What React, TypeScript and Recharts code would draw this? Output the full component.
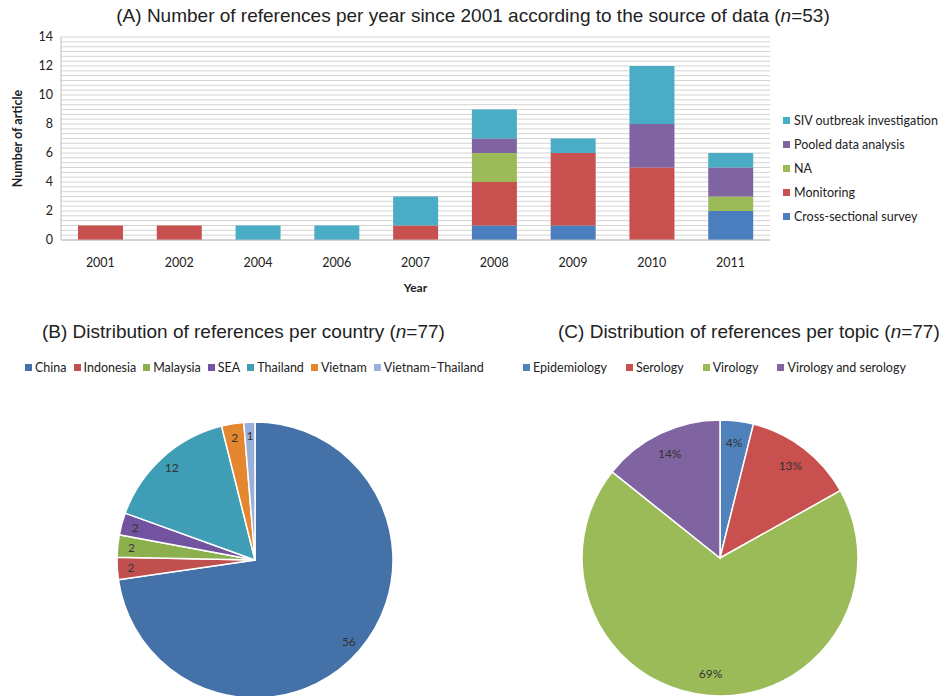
// Références par année / pays / thème (SIV en Asie du Sud-Est)
import React from 'react'
import { BarChart, Bar, XAxis, YAxis, CartesianGrid, PieChart, Pie, Cell } from 'recharts'

const years = ['2001', '2002', '2004', '2006', '2007', '2008', '2009', '2010', '2011']
const crossSectional = [0, 0, 0, 0, 0, 1, 1, 0, 2]
const monitoring = [1, 1, 0, 0, 1, 3, 5, 5, 0]
const notAvailable = [0, 0, 0, 0, 0, 2, 0, 0, 1]
const pooledData = [0, 0, 0, 0, 0, 1, 0, 3, 2]
const sivOutbreak = [0, 0, 1, 1, 2, 2, 1, 4, 1]
const yTicks = [0, 2, 4, 6, 8, 10, 12, 14]

const countries = ['China', 'Indonesia', 'Malaysia', 'SEA', 'Thailand', 'Vietnam', 'Vietnam–Thailand']
const countryCounts = [56, 2, 2, 2, 12, 2, 1]
const countryColors = ['#4472A8', '#C0504D', '#8DB04F', '#7153A0', '#3F9DB5', '#E4872F', '#9AB0DC']

const topics = ['Epidemiology', 'Serology', 'Virology', 'Virology and serology']
const topicCounts = [3, 10, 53, 11]
const topicColors = ['#4F81BD', '#C8504E', '#9BBB59', '#8064A2']

const series = [
  { key: 'cross', name: 'Cross-sectional survey', color: '#4A7EBF', values: crossSectional },
  { key: 'monitoring', name: 'Monitoring', color: '#C8504E', values: monitoring },
  { key: 'na', name: 'NA', color: '#9BBB59', values: notAvailable },
  { key: 'pooled', name: 'Pooled data analysis', color: '#8064A2', values: pooledData },
  { key: 'siv', name: 'SIV outbreak investigation', color: '#4BACC6', values: sivOutbreak },
]

const barData = years.map((year, i) => {
  const row: Record<string, string | number> = { year }
  series.forEach((s) => { row[s.key] = s.values[i] })
  return row
})

// lignes secondaires de la grille (Excel: 1/3 d'unité)
const minorTicks: number[] = []
for (let k = 0; k <= 42; k++) minorTicks.push(k / 3)

const countryData = countries.map((name, i) => ({ name, value: countryCounts[i] }))
const topicData = topics.map((name, i) => ({ name, value: topicCounts[i] }))

const titleFont = '"Liberation Sans", Arial, sans-serif'
const bodyFont = 'Lato, "Open Sans", sans-serif'
const RADIAN = Math.PI / 180

const titleStyle: React.CSSProperties = {
  position: 'absolute', fontFamily: titleFont, fontSize: 19, color: '#222', whiteSpace: 'nowrap',
}

function BarLegend() {
  return (
    <div style={{ position: 'absolute', left: 783, top: 108, fontFamily: bodyFont, fontSize: 12.5, color: '#222' }}>
      {[...series].reverse().map((s) => (
        <div key={s.key} style={{ display: 'flex', alignItems: 'center', height: 24, whiteSpace: 'nowrap' }}>
          <span style={{ width: 7, height: 7, background: s.color, marginRight: 4 }} />
          {s.name}
        </div>
      ))}
    </div>
  )
}

function PieLegend({ names, colors, left, gap }: { names: string[]; colors: string[]; left: number; gap: number }) {
  return (
    <div style={{ position: 'absolute', left, top: 360, display: 'flex', fontFamily: bodyFont, fontSize: 12.5, color: '#222', whiteSpace: 'nowrap' }}>
      {names.map((n, i) => (
        <div key={n} style={{ display: 'flex', alignItems: 'center', marginRight: gap }}>
          <span style={{ width: 7, height: 7, background: colors[i], marginRight: 3 }} />
          {n}
        </div>
      ))}
    </div>
  )
}

function makeLabel(factor: number, asPercent: boolean) {
  return (props: any) => {
    const { cx, cy, midAngle, outerRadius, value, percent } = props
    const r = outerRadius * factor
    const x = cx + r * Math.cos(-midAngle * RADIAN)
    const y = cy + r * Math.sin(-midAngle * RADIAN)
    return (
      <text x={x} y={y} textAnchor="middle" dominantBaseline="central"
        fontFamily={bodyFont} fontSize={12} fill="#333">
        {asPercent ? `${Math.round(percent * 100)}%` : value}
      </text>
    )
  }
}

function YLabel({ viewBox }: any) {
  const x = viewBox.x - 4
  const y = viewBox.y + viewBox.height / 2
  return (
    <text x={x} y={y} transform={`rotate(-90 ${x} ${y})`} textAnchor="middle" dominantBaseline="central"
      fontFamily={bodyFont} fontSize={12.5} fontWeight={700} fill="#222">
      Number of article
    </text>
  )
}

export default function App() {
  return (
    <div style={{ position: 'absolute', left: 0, top: 0, width: 951, height: 696, background: '#fff', overflow: 'hidden' }}>
      <div style={{ ...titleStyle, left: 0, width: 946, top: 5, textAlign: 'center' }}>
        (A) Number of references per year since 2001 according to the source of data (<i>n</i>=53)
      </div>
      <div style={{ position: 'absolute', left: 0, top: 0 }}>
        <BarChart width={951} height={300} data={barData} margin={{ top: 37, right: 181, bottom: 30, left: 21 }}>
          <CartesianGrid
            vertical={false}
            stroke="#d4d4d4"
            horizontalCoordinatesGenerator={({ yAxis, offset }: any) =>
              minorTicks.map((v) =>
                yAxis && typeof yAxis.scale === 'function'
                  ? yAxis.scale(v)
                  : offset.top + offset.height * (1 - v / 14),
              )}
          />
          <XAxis
            dataKey="year"
            axisLine={{ stroke: '#bdbdbd' }}
            tickLine={false}
            tick={{ fontSize: 12.5, fill: '#222', fontFamily: bodyFont }}
            tickMargin={12}
            label={{ value: 'Year', position: 'insideBottom', offset: -22, fontSize: 12, fontWeight: 700, fill: '#222', fontFamily: bodyFont }}
          />
          <YAxis
            domain={[0, 14]}
            ticks={yTicks}
            width={40}
            axisLine={{ stroke: '#bdbdbd' }}
            tickLine={false}
            tick={{ fontSize: 12.5, fill: '#222', fontFamily: bodyFont }}
            label={<YLabel />}
          />
          {series.map((s) => (
            <Bar key={s.key} dataKey={s.key} name={s.name} stackId="a" fill={s.color} barSize={45} isAnimationActive={false} />
          ))}
        </BarChart>
      </div>
      <BarLegend />

      <div style={{ ...titleStyle, left: 42, top: 321 }}>
        (B) Distribution of references per country (<i>n</i>=77)
      </div>
      <PieLegend names={countries} colors={countryColors} left={25} gap={7} />
      <div style={{ position: 'absolute', left: 0, top: 316 }}>
        <PieChart width={490} height={380}>
          <Pie data={countryData} dataKey="value" nameKey="name" cx={250} cy={239} outerRadius={138}
            startAngle={90} endAngle={-270} stroke="#fff" strokeWidth={1.5}
            label={makeLabel(0.9, false)} labelLine={false} isAnimationActive={false}>
            {countryData.map((d, i) => <Cell key={d.name} fill={countryColors[i]} />)}
          </Pie>
        </PieChart>
      </div>

      <div style={{ ...titleStyle, left: 558, top: 321 }}>
        (C) Distribution of references per topic (<i>n</i>=77)
      </div>
      <PieLegend names={topics} colors={topicColors} left={523} gap={19} />
      <div style={{ position: 'absolute', left: 476, top: 316 }}>
        <PieChart width={475} height={380}>
          <Pie data={topicData} dataKey="value" nameKey="name" cx={239} cy={237} outerRadius={138}
            startAngle={90} endAngle={-270} stroke="#fff" strokeWidth={1.5}
            label={makeLabel(0.84, true)} labelLine={false} isAnimationActive={false}>
            {topicData.map((d, i) => <Cell key={d.name} fill={topicColors[i]} />)}
          </Pie>
        </PieChart>
      </div>
    </div>
  )
}
